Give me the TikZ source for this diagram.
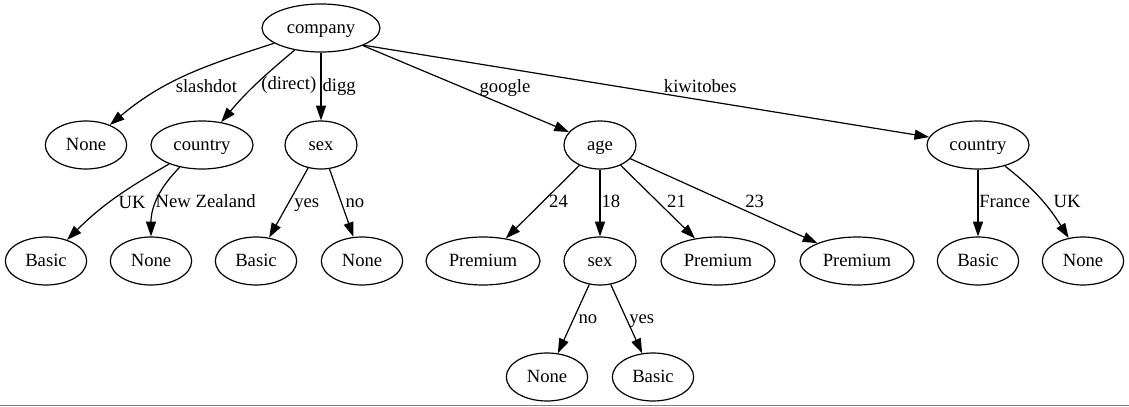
\documentclass[tikz,border=0pt]{standalone}
\usepackage{fontspec}
\setmainfont{Liberation Serif}
\usetikzlibrary{arrows.meta,shapes.geometric}

\tikzstyle{attr}=[shape=ellipse,draw,minimum width=54pt,minimum height=36pt,inner sep=0pt,text height=10pt,text depth=1.4pt]
\tikzstyle{outcome}=[attr,minimum width=61pt]
\tikzstyle{wideoutcome}=[attr,minimum width=85.5pt]
\tikzstyle{cond}=[anchor=base west,inner sep=0pt]

\begin{document}
\begin{tikzpicture}[x=0.75pt,y=0.75pt,line width=0.9pt,>={Triangle[length=11pt,width=7.5pt]},font=\fontsize{14pt}{16pt}\selectfont]
\useasboundingbox (0,0) rectangle (1129,-407);
% root
\node[attr,minimum width=88.5pt] (company) at (321,-28) {company};
% first level
\node[outcome] (none1) at (86,-145) {None}
    edge [<-,out=40,in=198] node[cond,pos=0.29,xshift=15pt] {slashdot} (company);
\node[attr,minimum width=76.5pt] (country1) at (202,-145) {country}
    edge [<-,out=50,in=220] node[cond,pos=0.42,xshift=7.5pt] {(direct)} (company);
\node[attr] (sex1) at (321,-145) {sex}
    edge [<-] node[cond,pos=0.42,xshift=0.75pt] {digg} (company);
\node[attr] (age) at (600,-145) {age}
    edge [<-] node[cond,pos=0.462,xshift=4pt] {google} (company);
\node[attr,minimum width=76.5pt] (country2) at (978,-145) {country}
    edge [<-] node[cond,pos=0.47,yshift=1.3pt] {kiwitobes} (company.-22);
% second level
\node[outcome] (basic1) at (46,-261) {Basic}
    edge [<-,out=45,in=210] node[cond,pos=0.36,xshift=12pt] {UK} (country1);
\node[outcome] (none2) at (151,-261) {None}
    edge [<-,out=90,in=225] node[cond,pos=0.365,xshift=0.5pt] {New Zealand} (country1);
\node[outcome] (basic2) at (256,-261) {Basic}
    edge [<-] node[cond,pos=0.427,xshift=6pt] {yes} (sex1);
\node[outcome] (none3) at (362,-261) {None}
    edge [<-] node[cond,pos=0.427,xshift=1.3pt] {no} (sex1);
\node[wideoutcome] (prem1) at (483,-261) {Premium}
    edge [<-] node[cond,pos=0.418,xshift=9pt] {24} (age);
\node[attr] (sex2) at (600,-261) {sex}
    edge [<-] node[cond,pos=0.427,xshift=0.75pt] {18} (age);
\node[wideoutcome] (prem2) at (718,-261) {Premium}
    edge [<-] node[cond,pos=0.418,xshift=2pt] {21} (age);
\node[wideoutcome] (prem3) at (857,-261) {Premium}
    edge [<-] node[cond,pos=0.417,xshift=4pt] {23} (age);
\node[outcome] (basic3) at (978,-261) {Basic}
    edge [<-] node[cond,pos=0.427,xshift=0.5pt] {France} (country2);
\node[outcome] (none4) at (1083,-261) {None}
    edge [<-,out=122,in=322] node[cond,pos=0.365,xshift=3.75pt] {UK} (country2);
% third level
\node[outcome] (none5) at (547,-377) {None}
    edge [<-] node[cond,pos=0.427,xshift=5pt] {no} (sex2);
\node[outcome] (basic4) at (653,-377) {Basic}
    edge [<-] node[cond,pos=0.427] {yes} (sex2);
% frame rule
\draw[gray,line width=1pt] (0,-405.5) -- (1129,-405.5);
\end{tikzpicture}
\end{document}
